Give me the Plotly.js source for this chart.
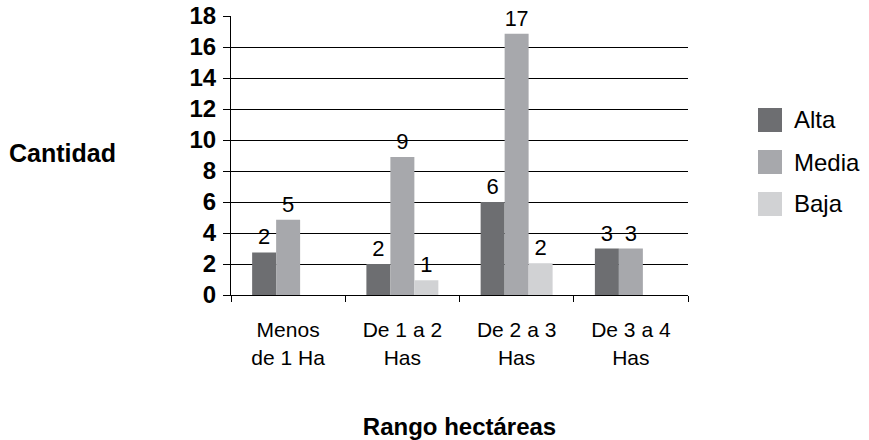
<!DOCTYPE html>
<html>
<head>
<meta charset="utf-8">
<script src="https://cdn.plot.ly/plotly-3.0.1.min.js"></script>
<style>html,body{margin:0;padding:0;background:#fff;}#chart{width:869px;height:440px;}</style>
</head>
<body>
<div id="chart"></div>
<script>
var categories = ["Menos<br>de 1 Ha", "De 1 a 2<br>Has", "De 2 a 3<br>Has", "De 3 a 4<br>Has"];
var seriesNames = ["Alta", "Media", "Baja"];
var alta = [2.75, 2, 6, 3];
var media = [4.85, 8.9, 16.85, 3];
var baja = [null, 0.95, 2.05, null];
var altaLabels = ["2", "2", "6", "3"];
var mediaLabels = ["5", "9", "17", "3"];
var bajaLabels = ["", "1", "2", ""];
var colors = ["#6d6e71", "#a7a8ac", "#d1d2d4"];

var FONT = "'Liberation Sans', Arial, Helvetica, sans-serif";
var values = [alta, media, baja];
var labels = [altaLabels, mediaLabels, bajaLabels];

var traces = seriesNames.map(function (name, i) {
  return {
    type: "bar",
    name: name,
    x: categories,
    y: values[i],
    text: labels[i],
    textposition: "outside",
    textfont: {family: FONT, size: 22, color: "#000"},
    cliponaxis: false,
    marker: {color: colors[i], line: {width: 0}},
    hoverinfo: "skip"
  };
});

// custom legend (pixel positions converted to paper coordinates)
var L = 231, R = 688, T = 16, B = 295;
function px(x) { return (x - L) / (R - L); }
function py(y) { return (B - y) / (B - T); }
var legendY = [120, 162, 204];
var shapes = [], annotations = [];
seriesNames.forEach(function (name, i) {
  shapes.push({type: "rect", xref: "paper", yref: "paper",
    x0: px(758), x1: px(782), y0: py(legendY[i] + 12), y1: py(legendY[i] - 12),
    fillcolor: colors[i], line: {width: 0}});
  annotations.push({xref: "paper", yref: "paper", x: px(792), y: py(legendY[i]),
    xanchor: "left", yanchor: "middle", showarrow: false, text: name,
    font: {family: FONT, size: 24, color: "#000"}});
});
annotations.push({xref: "paper", yref: "paper", x: px(7), y: py(153),
  xanchor: "left", yanchor: "middle", showarrow: false, text: "<b>Cantidad</b>",
  font: {family: FONT, size: 25, color: "#000"}});

var layout = {
  width: 869, height: 440,
  margin: {l: L, r: 869 - R, t: T, b: 440 - B},
  paper_bgcolor: "#fff", plot_bgcolor: "#fff",
  showlegend: false,
  barmode: "group",
  bargap: 0.37,
  bargroupgap: 0,
  font: {family: FONT, color: "#000"},
  xaxis: {
    type: "category",
    tickson: "boundaries",
    ticks: "outside", ticklen: 6, tickcolor: "#000", tickwidth: 1,
    showline: true, linecolor: "#000", linewidth: 1,
    showgrid: false,
    tickfont: {family: FONT, size: 21, color: "#000"},
    ticklabelstandoff: 16,
    title: {text: "<b>Rango hectáreas</b>", font: {family: FONT, size: 24, color: "#000"}, standoff: 52}
  },
  yaxis: {
    range: [0, 18], dtick: 2, tick0: 0,
    ticks: "outside", ticklen: 7, tickcolor: "#000", tickwidth: 1,
    showline: true, linecolor: "#000", linewidth: 1,
    showgrid: true, gridcolor: "#000", gridwidth: 1,
    zeroline: true, zerolinecolor: "#000",
    tickfont: {family: FONT, size: 24, color: "#000", weight: "bold"},
    ticklabelstandoff: 2
  },
  shapes: shapes,
  annotations: annotations
};

Plotly.newPlot("chart", traces, layout, {staticPlot: true, displayModeBar: false});
</script>
</body>
</html>
